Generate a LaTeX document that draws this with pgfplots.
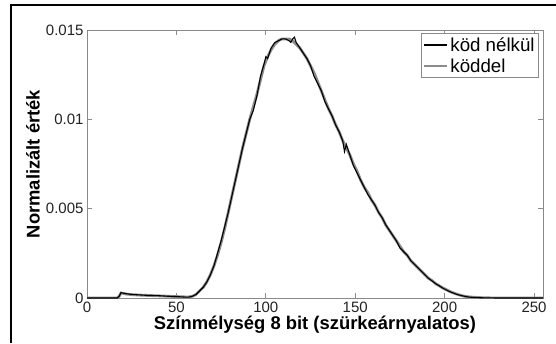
\documentclass[border=0pt]{standalone}
\usepackage{pgfplots}
\pgfplotsset{compat=1.18}
\usepackage{fontspec}
\setmainfont{Liberation Sans}
\definecolor{axgray}{HTML}{8A8A8A}
\definecolor{curvegray}{HTML}{8C8C8C}
\definecolor{txt}{HTML}{222222}

\pgfplotstableread{
x y
0 0
17 0
18 0.0001
19 0.0003
20 0.00028
22 0.00024
25 0.0002
30 0.00017
35 0.00014
40 0.00013
45 0.0001
50 0.00008
55 0.00005
57 0.00005
59 0.0001
61 0.0002
63 0.0004
65 0.0006
67 0.0009
69 0.0013
71 0.0018
73 0.0025
75 0.0032
77 0.0040
79 0.0048
81 0.0057
83 0.0066
85 0.0075
87 0.0084
89 0.0092
91 0.0100
93 0.0105
95 0.0113
97 0.0124
99 0.0131
100 0.0135
101 0.0134
103 0.0140
105 0.0143
107 0.0144
109 0.0145
111 0.0145
113 0.0144
114 0.0143
115 0.0145
116 0.0146
117 0.0143
119 0.0140
121 0.0137
123 0.0134
125 0.0130
127 0.0124
129 0.0120
131 0.0116
133 0.0110
135 0.0106
137 0.0102
139 0.0097
141 0.0093
143 0.0088
144 0.0082
145 0.0086
147 0.0080
149 0.0074
151 0.0070
153 0.0066
155 0.0062
157 0.0058
159 0.0055
161 0.0052
163 0.0048
165 0.0045
167 0.0041
169 0.0038
171 0.0035
173 0.0032
175 0.0028
177 0.0026
179 0.0024
181 0.0021
183 0.0019
185 0.0017
187 0.0015
189 0.0013
191 0.0011
193 0.00095
195 0.0008
197 0.00068
199 0.00055
201 0.00045
203 0.00035
205 0.00027
207 0.0002
209 0.00014
211 0.0001
213 0.00006
215 0.00004
218 0.00002
222 0.00001
230 0
255 0
}\nofog

\pgfplotstableread{
x y
0 0
17 0
18 0.0001
19 0.00028
20 0.00026
22 0.00022
25 0.00019
30 0.00016
35 0.00014
40 0.00012
45 0.0001
50 0.00008
55 0.00006
57 0.00006
59 0.0001
61 0.0002
63 0.0004
65 0.0006
67 0.0009
69 0.0013
71 0.0018
73 0.0024
75 0.0031
77 0.0039
79 0.0048
81 0.0057
83 0.0066
85 0.0075
87 0.0084
89 0.0092
91 0.0100
93 0.0107
95 0.0114
97 0.0122
99 0.0130
101 0.0135
103 0.0139
105 0.0142
107 0.0144
109 0.0145
111 0.0145
113 0.0145
115 0.0144
117 0.0142
119 0.0140
121 0.0137
123 0.0134
125 0.0130
127 0.0126
129 0.0121
131 0.0116
133 0.0111
135 0.0106
137 0.0102
139 0.0097
141 0.0093
143 0.0088
145 0.0084
147 0.0080
149 0.0075
151 0.0071
153 0.0066
155 0.0062
157 0.0059
159 0.0055
161 0.0052
163 0.0048
165 0.0045
167 0.0041
169 0.0038
171 0.0035
173 0.0032
175 0.0029
177 0.0026
179 0.0024
181 0.0021
183 0.0019
185 0.0017
187 0.0015
189 0.0013
191 0.0011
193 0.00097
195 0.0008
197 0.00068
199 0.00056
201 0.00046
203 0.00036
205 0.00028
207 0.00021
209 0.00015
211 0.0001
213 0.00007
215 0.00005
218 0.00003
222 0.00001
230 0
255 0
}\fog

\begin{document}
\begin{tikzpicture}
\useasboundingbox (0,0) rectangle (556pt,343pt);
\draw[line width=2pt, black] (11pt,0pt) -- (11pt,338pt) -- (556pt,338pt);
\begin{axis}[
  at={(87pt,45pt)}, anchor=south west,
  scale only axis, width=456pt, height=268pt,
  xmin=0, xmax=255, ymin=0, ymax=0.015,
  scaled y ticks=false, scaled x ticks=false,
  xtick={0,50,100,150,200,250},
  xticklabels={0,50,100,150,200,250},
  ytick={0,0.005,0.01,0.015},
  yticklabels={0,0.005,0.01,0.015},
  /pgf/number format/assume math mode=true,
  tick align=inside,
  major tick length=5pt,
  axis line style={axgray, line width=0.8pt},
  every tick/.style={axgray, line width=0.8pt},
  tick label style={font=\fontsize{15}{18}\selectfont, text=txt},
  xlabel={Színmélység 8 bit (szürkeárnyalatos)},
  ylabel={Normalizált érték},
  every axis x label/.style={at={(axis description cs:0.5,0)}, yshift=-27pt, anchor=center,
     font=\fontsize{18.4}{22}\selectfont\bfseries, text=black},
  every axis y label/.style={at={(axis description cs:0,0.5)}, xshift=-54pt, rotate=90, anchor=center,
     font=\fontsize{18.4}{22}\selectfont\bfseries, text=black},
  legend cell align=left,
  legend style={at={(1,1)}, xshift=-4pt, yshift=-3pt, anchor=north east,
    draw=axgray, line width=0.8pt, font=\fontsize{18.7}{22}\selectfont, inner sep=2pt,
    row sep=2pt},
  legend image code/.code={\draw[#1] (0pt,0pt) -- (23pt,0pt);},
]
\addplot[curvegray, line width=2.8pt, forget plot] table[x=x,y=y] {\fog};
\addplot[black, line width=1.1pt] table[x=x,y=y] {\nofog};
\addlegendentry{köd nélkül}
\addlegendimage{curvegray, line width=2.2pt}
\addlegendentry{köddel}
\end{axis}
\end{tikzpicture}
\end{document}
